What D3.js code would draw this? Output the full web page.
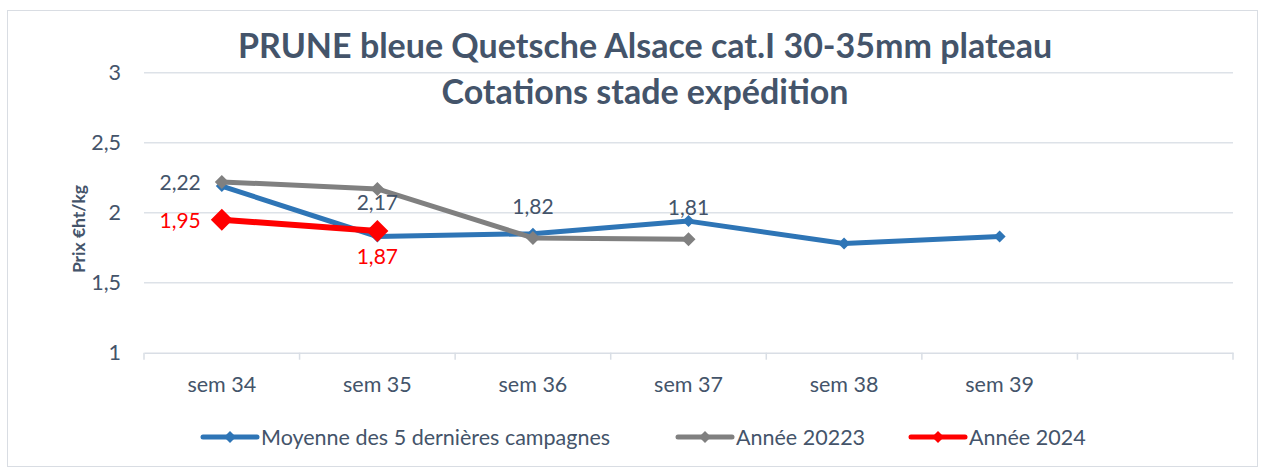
<!DOCTYPE html>
<html><head><meta charset="utf-8">
<script src="https://cdn.jsdelivr.net/npm/d3@7"></script>
<style>body{margin:0;background:#fff;}svg{display:block;font-family:Lato,"Open Sans",sans-serif;}</style>
</head><body><svg id="c" width="1263" height="469"></svg>
<script>
const categories = ["sem 34","sem 35","sem 36","sem 37","sem 38","sem 39",""];
const seriesNames = ["Moyenne des 5 dernières campagnes","Année 20223","Année 2024"];
const moyenne = [2.19, 1.83, 1.85, 1.94, 1.78, 1.83];
const annee2023 = [2.22, 2.17, 1.82, 1.81];
const annee2024 = [1.95, 1.87];
const yTicks = [1, 1.5, 2, 2.5, 3];
const yTickLabels = ["1","1,5","2","2,5","3"];
const titleLines = ["PRUNE bleue Quetsche Alsace cat.I 30-35mm plateau","Cotations stade expédition"];
const yTitle = "Prix €ht/kg";

(function(){
const TXT = "#44546a";
const svg = d3.select("#c");
svg.append("rect").attr("x",7.5).attr("y",10.5).attr("width",1250).attr("height",456)
  .attr("fill","#fff").attr("stroke","#d9dde3").attr("stroke-width",1);

const pL=144, pR=1233, pT=72.7, pB=352.7;
const x = d3.scaleBand().domain(categories.map((c,i)=>i)).range([pL,pR]);
const y = d3.scaleLinear().domain([1,3]).range([pB,pT]);
const cx = i => x(i)+x.bandwidth()/2;

svg.append("g").selectAll("line").data(yTicks.slice(1)).join("line")
  .attr("x1",pL).attr("x2",pR).attr("y1",d=>y(d)).attr("y2",d=>y(d))
  .attr("stroke","#dde2e8").attr("stroke-width",1.5);
const xa = svg.append("g").attr("transform",`translate(0,${pB})`)
  .call(d3.axisBottom(x).tickSize(0).tickFormat(i=>categories[i]));
xa.select(".domain").attr("stroke","#d9dee5").attr("stroke-width",1.5);
xa.selectAll("text").attr("fill",TXT).style("font-size","21.5px").style("font-family","Lato")
  .attr("y",39).attr("dy",null);
svg.append("g").selectAll("line").data(d3.range(categories.length+1)).join("line")
  .attr("x1",i=>pL+i*x.step()).attr("x2",i=>pL+i*x.step())
  .attr("y1",pB).attr("y2",pB+7).attr("stroke","#d9dee5").attr("stroke-width",1.5);
const ya = svg.append("g").attr("transform",`translate(${pL-23},0)`)
  .call(d3.axisLeft(y).tickValues(yTicks).tickSize(0).tickFormat((d,i)=>yTickLabels[i]));
ya.select(".domain").remove();
ya.selectAll("text").attr("fill",TXT).style("font-size","21.5px").style("font-family","Lato").attr("x",0);

svg.append("text").attr("transform","translate(85,229) rotate(-90)").attr("text-anchor","middle")
  .attr("fill",TXT).style("font-size","17.5px").style("font-weight","bold").text(yTitle);

titleLines.forEach((t,i)=>{
  svg.append("text").attr("x",645).attr("y",i===0?58:104).attr("text-anchor","middle")
    .attr("fill",TXT).style("font-size","34px").style("font-weight","bold").text(t);
});

const series = [
  {name:seriesNames[0], data:moyenne, color:"#2e75b6", w:5, m:6},
  {name:seriesNames[1], data:annee2023, color:"#808080", w:5, m:7},
  {name:seriesNames[2], data:annee2024, color:"#ff0000", w:6, m:11}
];
const line = d3.line().x((d,i)=>cx(i)).y(d=>y(d));
const diamond = (s)=>`M0,${-s}L${s},0L0,${s}L${-s},0Z`;
series.forEach(s=>{
  svg.append("path").datum(s.data).attr("d",line).attr("fill","none")
    .attr("stroke",s.color).attr("stroke-width",s.w).attr("stroke-linejoin","round");
  svg.append("g").selectAll("path").data(s.data).join("path")
    .attr("transform",(d,i)=>`translate(${cx(i)},${y(d)})`).attr("d",diamond(s.m)).attr("fill",s.color);
});

const fmt = v => d3.format(".2f")(v).replace(".",",");
const offs = {left:[-21,8,"end"], above:[0,-24,"middle"], below:[0,33,"middle"], below2:[0,21,"middle"]};
const lab = (i,v,pos,color)=>{
  const o = offs[pos];
  svg.append("text").attr("x",cx(i)+o[0]).attr("y",y(v)+o[1]).attr("text-anchor",o[2]).attr("fill",color)
    .style("font-size","21px").text(fmt(v));
};
lab(0,annee2023[0],"left",TXT);
lab(1,annee2023[1],"below2",TXT);
lab(2,annee2023[2],"above",TXT);
lab(3,annee2023[3],"above",TXT);
lab(0,annee2024[0],"left","#ff0000");
lab(1,annee2024[1],"below","#ff0000");

const legX = [203, 678, 911];
series.forEach((s,k)=>{
  const g = svg.append("g").attr("transform",`translate(${legX[k]},437)`);
  g.append("line").attr("x1",0).attr("x2",54).attr("stroke",s.color).attr("stroke-width",5).attr("stroke-linecap","round");
  g.append("path").attr("transform","translate(27,0)").attr("d",diamond(6)).attr("fill",s.color);
  g.append("text").attr("x",58).attr("y",8).attr("fill",TXT).style("font-size","21.5px").text(s.name);
});
})();
</script></body></html>
